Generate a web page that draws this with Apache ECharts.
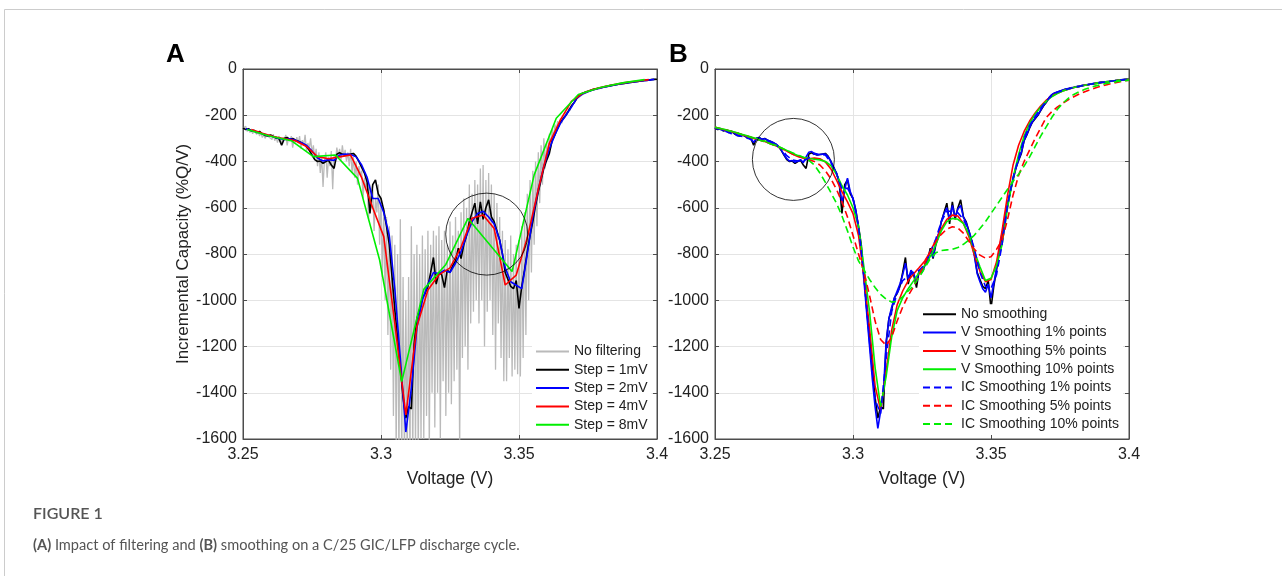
<!DOCTYPE html>
<html>
<head>
<meta charset="utf-8">
<title>Figure 1</title>
<script src="https://cdn.jsdelivr.net/npm/echarts@6/dist/echarts.min.js"></script>
<style>
html, body { margin: 0; padding: 0; background: #fff; }
#chart { width: 1282px; height: 576px; }
</style>
</head>
<body>
<div id="chart"></div>
<script>
// ---- data ----
// panel A: raw signal, 0.5 mV sampling from 3.25 V
const noFilterStart = 3.25, noFilterStep = 0.0005;
const noFilterValues = [
  -255,-262,-248,-270,-258,-275,-262,-280,-268,-276,
  -282,-270,-290,-275,-296,-283,-300,-286,-278,-295,
  -288,-305,-282,-310,-292,-318,-290,-302,-325,-296,
  -305,-285,-330,-298,-312,-290,-340,-300,-318,-295,
  -322,-290,-345,-308,-330,-285,-355,-320,-345,-300,
  -365,-330,-390,-345,-420,-360,-450,-380,-510,-395,
  -360,-470,-380,-420,-355,-520,-370,-400,-340,-380,
  -345,-395,-330,-380,-350,-400,-360,-420,-345,-450,
  -380,-470,-400,-500,-420,-460,-440,-560,-470,-520,
  -480,-650,-500,-600,-520,-700,-560,-620,-500,-760,
  -560,-900,-600,-1000,-640,-1150,-680,-1300,-720,-1500,
  -760,-1650,-800,-1700,-650,-1700,-900,-1700,-1000,-1700,
  -900,-1700,-680,-1700,-800,-1650,-760,-1700,-800,-1600,
  -720,-1600,-780,-1500,-700,-1650,-760,-1400,-700,-1550,
  -720,-1400,-680,-1600,-740,-1350,-700,-1500,-760,-1400,
  -660,-1450,-720,-1350,-640,-1300,-700,-1650,-620,-1250,
  -560,-1200,-600,-1300,-500,-1100,-540,-1050,-480,-1000,
  -500,-1100,-430,-1000,-415,-1200,-480,-1050,-450,-1000,
  -500,-1150,-540,-1300,-580,-1100,-640,-1250,-700,-1350,
  -740,-1350,-780,-1250,-720,-1330,-800,-1300,-760,-1320,
  -740,-1330,-680,-1250,-620,-1150,-540,-1000,-480,-880,
  -440,-760,-400,-680,-360,-580,-330,-500,-300,-430,
  -320,-380,-280,-340,-260,-300,-240,-270,-225,-250,
  -215,-235,-200,-210,-185,-195,-170,-180,-155,-160,
  -145,-150,-130,-135,-120,-118,-110,-108,-104,-100,
  -98,-96,-94,-92,-90,-88,-86,-85,-83,-82,
  -80,-79,-78,-77,-76,-75,-74,-73,-72,-71,
  -70,-69,-68,-67,-66,-65,-64,-63,-62,-61,
  -60,-59,-58,-57,-56,-55,-54,-53,-52,-51,
  -50,-49,-48,-47,-47,-46,-45,-45,-44,-44,
  -43
];

// 1 mV step (also the unsmoothed curve of panel B)
const step1Start = 3.25, step1Step = 0.001;
const step1Values = [
  -255,-262,-258,-268,-265,-275,-270,-280,-287,-290,
  -285,-292,-298,-300,-330,-300,-296,-305,-300,-308,
  -312,-318,-325,-335,-352,-372,-392,-400,-398,-408,
  -400,-395,-415,-430,-368,-362,-368,-372,-370,-368,
  -365,-378,-400,-425,-450,-490,-625,-500,-480,-540,
  -560,-610,-680,-760,-900,-1040,-1160,-1290,-1420,-1510,
  -1460,-1470,-1190,-1080,-1040,-990,-970,-940,-880,-815,
  -930,-880,-890,-945,-870,-880,-850,-830,-775,-820,
  -760,-720,-660,-620,-580,-670,-575,-650,-600,-566,
  -640,-660,-700,-740,-800,-880,-910,-940,-950,-915,
  -1035,-940,-870,-790,-720,-660,-590,-530,-480,-430,
  -395,-365,-310,-285,-255,-230,-215,-200,-180,-160,
  -145,-125,-112,-105,-100,-96,-92,-88,-85,-82,
  -80,-77,-75,-72,-70,-68,-66,-64,-62,-60,
  -58,-57,-55,-54,-52,-51,-49,-48,-46,-45,
  -44
];

const step2Start = 3.251, step2Step = 0.002;
const step2Values = [
  -258,-266,-272,-280,-287,-293,-300,-305,-302,-308,
  -318,-330,-355,-385,-398,-392,-395,-372,-368,-370,
  -380,-415,-470,-560,-560,-620,-720,-950,-1250,-1570,
  -1380,-1120,-1000,-930,-880,-885,-870,-880,-840,-790,
  -720,-660,-625,-615,-640,-670,-740,-860,-920,-935,
  -950,-800,-640,-520,-420,-345,-285,-235,-200,-165,
  -125,-108,-98,-90,-84,-78,-73,-68,-64,-60,
  -57,-54,-51,-48,-45
];

const step4Start = 3.253, step4Step = 0.004;
const step4Values = [
  -262,-278,-292,-302,-310,-335,-379,-388,-380,-372,
  -470,-600,-725,-1100,-1496,-1114,-956,-890,-860,-770,
  -645,-631,-690,-934,-891,-730,-520,-321,-220,-140,
  -105,-88,-76,-66,-58,-52,-46
];

const step8Start = 3.2515, step8Step = 0.008;
const step8Values = [-262,-290,-310,-379,-372,-473,-826,-1352,-953,-845,-646,-761,-876,-458,-213,-110,-80,-60,-46];

// panel B
const vSmooth1Start = 3.25, vSmooth1Step = 0.001;
const vSmooth1Values = [
  -255,-260,-258,-266,-265,-273,-270,-278,-285,-288,
  -285,-291,-297,-300,-318,-300,-297,-304,-302,-307,
  -312,-318,-324,-334,-350,-370,-388,-398,-396,-403,
  -398,-392,-405,-380,-360,-357,-365,-372,-370,-368,
  -368,-380,-400,-425,-452,-488,-580,-520,-472,-530,
  -560,-610,-690,-780,-920,-1060,-1200,-1340,-1460,-1554,
  -1480,-1400,-1180,-1080,-1030,-990,-960,-930,-890,-840,
  -910,-870,-885,-920,-870,-875,-850,-830,-785,-815,
  -750,-710,-660,-625,-600,-650,-590,-640,-605,-590,
  -640,-665,-705,-745,-810,-885,-920,-950,-965,-930,
  -990,-930,-860,-780,-710,-650,-585,-525,-475,-428,
  -392,-360,-308,-282,-252,-228,-212,-198,-178,-158,
  -143,-124,-111,-104,-99,-95,-91,-87,-84,-81,
  -79,-76,-74,-71,-69,-67,-65,-63,-61,-59,
  -57,-56,-54,-53,-51,-50,-48,-47,-46,-45,
  -44
];

// smoothed curves, 2 mV spacing from 3.25 V
const smoothStart = 3.25, smoothStep = 0.002;
const vSmooth5Values = [
  -252,-258,-264,-270,-277,-285,-292,-300,-306,-313,
  -322,-332,-342,-355,-368,-378,-385,-388,-385,-388,
  -402,-432,-480,-530,-575,-625,-720,-900,-1120,-1370,
  -1475,-1310,-1130,-1020,-960,-915,-885,-858,-830,-790,
  -740,-690,-650,-632,-636,-668,-725,-805,-875,-920,
  -910,-835,-700,-545,-415,-330,-270,-225,-190,-160,
  -135,-118,-105,-95,-87,-80,-75,-70,-66,-62,
  -58,-55,-52,-49,-47,-45
];
const vSmooth10Values = [
  -252,-257,-263,-269,-276,-283,-290,-297,-304,-311,
  -320,-330,-340,-352,-364,-374,-382,-387,-390,-393,
  -400,-418,-455,-505,-545,-600,-680,-860,-1050,-1290,
  -1460,-1330,-1160,-1045,-990,-950,-915,-880,-850,-810,
  -760,-700,-660,-646,-650,-668,-715,-790,-855,-915,
  -905,-850,-760,-600,-470,-370,-290,-235,-195,-165,
  -140,-120,-106,-95,-87,-80,-75,-70,-66,-62,
  -58,-55,-52,-49,-47,-45
];
const icSmooth1Values = [
  -253,-262,-270,-280,-287,-292,-300,-312,-303,-306,
  -315,-328,-345,-375,-393,-398,-398,-385,-365,-370,
  -372,-405,-450,-520,-515,-560,-680,-900,-1180,-1430,
  -1490,-1250,-1050,-970,-915,-895,-880,-870,-845,-795,
  -735,-660,-615,-615,-622,-650,-700,-780,-880,-940,
  -950,-890,-760,-590,-470,-385,-300,-245,-205,-170,
  -140,-114,-101,-93,-86,-80,-75,-70,-66,-62,
  -58,-55,-52,-49,-47,-45
];
const icSmooth5Values = [
  -252,-258,-264,-270,-277,-285,-292,-300,-307,-315,
  -323,-333,-343,-355,-367,-377,-385,-392,-400,-415,
  -440,-475,-520,-575,-640,-720,-800,-880,-980,-1090,
  -1170,-1195,-1160,-1090,-1030,-980,-940,-890,-840,-790,
  -745,-715,-692,-682,-688,-710,-745,-780,-805,-818,
  -812,-780,-740,-650,-545,-460,-400,-350,-300,-255,
  -210,-185,-165,-148,-133,-120,-108,-98,-89,-81,
  -74,-68,-62,-57,-52,-48
];
const icSmooth10Values = [
  -252,-258,-264,-270,-277,-285,-292,-300,-307,-315,
  -323,-332,-342,-352,-362,-372,-382,-395,-415,-450,
  -490,-535,-580,-635,-700,-770,-830,-870,-910,-945,
  -975,-995,-1008,-1005,-985,-960,-935,-900,-860,-820,
  -795,-785,-782,-780,-772,-758,-740,-718,-690,-660,
  -625,-590,-555,-520,-485,-455,-420,-380,-335,-290,
  -250,-210,-175,-148,-127,-110,-98,-88,-80,-73,
  -67,-62,-58,-54,-51,-48
];

// highlighted regions (circle centres, V and %Q/V)
const circleA = [3.3383, -714];
const circleB = [3.2784, -391];

const xTickLabels = ['3.25', '3.3', '3.35', '3.4'];
const legendA = ['No filtering', 'Step = 1mV', 'Step = 2mV', 'Step = 4mV', 'Step = 8mV'];
const legendB = ['No smoothing', 'V Smoothing 1% points', 'V Smoothing 5% points', 'V Smoothing 10% points',
  'IC Smoothing 1% points', 'IC Smoothing 5% points', 'IC Smoothing 10% points'];

// ---- chart ----
const font = 'Liberation Sans';
const axisColor = '#4d4d4d';

function pairs (start, step, values) {
  return values.map((v, i) => [+(start + i * step).toFixed(4), v]);
}

function line (name, panel, data, color, width, dashed) {
  return {
    name: name,
    type: 'line',
    xAxisIndex: panel,
    yAxisIndex: panel,
    data: data,
    symbol: 'none',
    color: color,
    lineStyle: { color: color, width: width, type: dashed ? [7, 4] : 'solid' },
    silent: true
  };
}

function circle (panel, center) {
  return {
    type: 'scatter',
    xAxisIndex: panel,
    yAxisIndex: panel,
    data: [center],
    symbol: 'circle',
    symbolSize: 82,
    clip: false,
    silent: true,
    z: 5,
    itemStyle: { color: 'rgba(0,0,0,0)', borderColor: '#000', borderWidth: 1 }
  };
}

function xAxis (grid, pos) {
  const main = pos === 'bottom';
  return {
    type: 'value',
    gridIndex: grid,
    position: pos,
    min: 3.25,
    max: 3.4,
    interval: 0.05,
    name: main ? 'Voltage (V)' : '',
    nameLocation: 'middle',
    nameGap: 31,
    nameTextStyle: { fontSize: 17.5, color: '#222', fontFamily: font },
    axisLine: { show: true, onZero: false, lineStyle: { color: axisColor } },
    axisTick: { show: true, inside: true, length: 4, lineStyle: { color: axisColor } },
    axisLabel: {
      show: main,
      margin: 8,
      fontSize: 16,
      color: '#222',
      fontFamily: font,
      formatter: v => xTickLabels.find(t => Math.abs(+t - v) < 1e-6) || ''
    },
    splitLine: { show: main, lineStyle: { color: '#e4e4e4' } }
  };
}

function yAxis (grid, pos, named) {
  const main = pos === 'left';
  return {
    type: 'value',
    gridIndex: grid,
    position: pos,
    min: -1600,
    max: 0,
    interval: 200,
    name: named ? 'Incremental Capacity (%Q/V)' : '',
    nameLocation: 'middle',
    nameGap: 42,
    nameTextStyle: { fontSize: 17, color: '#222', fontFamily: font },
    axisLine: { show: true, onZero: false, lineStyle: { color: axisColor } },
    axisTick: { show: true, inside: true, length: 4, lineStyle: { color: axisColor } },
    axisLabel: { show: main, margin: 6, fontSize: 16, color: '#222', fontFamily: font, formatter: v => String(v) },
    splitLine: { show: main, lineStyle: { color: '#e4e4e4' } }
  };
}

function legend (names, left, top) {
  return {
    orient: 'vertical',
    left: left,
    top: top,
    data: names,
    selectedMode: false,
    itemWidth: 33,
    itemHeight: 14,
    itemGap: 4.3,
    padding: [3, 4, 4, 3],
    backgroundColor: '#fff',
    itemStyle: { opacity: 0 },
    textStyle: { fontSize: 14, color: '#222', fontFamily: font }
  };
}

const chart = echarts.init(document.getElementById('chart'), null, { renderer: 'canvas' });

chart.setOption({
  animation: false,
  backgroundColor: '#fff',
  title: [
    { text: 'A', left: 166, top: 42, padding: 0, textStyle: { fontSize: 26, fontWeight: 'bold', color: '#000', fontFamily: font } },
    { text: 'B', left: 669, top: 42, padding: 0, textStyle: { fontSize: 26, fontWeight: 'bold', color: '#000', fontFamily: font } }
  ],
  grid: [
    { left: 243, top: 69, width: 414, height: 370, show: true, borderColor: axisColor, borderWidth: 1 },
    { left: 715, top: 69, width: 414, height: 370, show: true, borderColor: axisColor, borderWidth: 1 }
  ],
  xAxis: [xAxis(0, 'bottom'), xAxis(1, 'bottom'), xAxis(0, 'top'), xAxis(1, 'top')],
  yAxis: [yAxis(0, 'left', true), yAxis(1, 'left', false), yAxis(0, 'right', false), yAxis(1, 'right', false)],
  legend: [legend(legendA, 532, 341.5), legend(legendB, 919, 304.3)],
  series: [
    line('No filtering', 0, pairs(noFilterStart, noFilterStep, noFilterValues), '#bababa', 1.3),
    line('Step = 1mV', 0, pairs(step1Start, step1Step, step1Values), '#000000', 1.6),
    line('Step = 2mV', 0, pairs(step2Start, step2Step, step2Values), '#0000ff', 1.6),
    line('Step = 4mV', 0, pairs(step4Start, step4Step, step4Values), '#ff0000', 1.6),
    line('Step = 8mV', 0, pairs(step8Start, step8Step, step8Values), '#00ee00', 1.6),
    circle(0, circleA),

    line('No smoothing', 1, pairs(step1Start, step1Step, step1Values), '#000000', 1.6),
    line('V Smoothing 1% points', 1, pairs(vSmooth1Start, vSmooth1Step, vSmooth1Values), '#0000ff', 1.6),
    line('V Smoothing 5% points', 1, pairs(smoothStart, smoothStep, vSmooth5Values), '#ff0000', 1.6),
    line('V Smoothing 10% points', 1, pairs(smoothStart, smoothStep, vSmooth10Values), '#00ee00', 1.6),
    line('IC Smoothing 1% points', 1, pairs(smoothStart, smoothStep, icSmooth1Values), '#0000ff', 1.6, true),
    line('IC Smoothing 5% points', 1, pairs(smoothStart, smoothStep, icSmooth5Values), '#ff0000', 1.6, true),
    line('IC Smoothing 10% points', 1, pairs(smoothStart, smoothStep, icSmooth10Values), '#00ee00', 1.6, true),
    circle(1, circleB)
  ],
  graphic: [
    {
      type: 'rect',
      silent: true,
      shape: { x: 4.5, y: 9.5, width: 1400, height: 700 },
      style: { fill: 'none', stroke: '#cccccc', lineWidth: 1 }
    },
    {
      type: 'text',
      left: 33,
      top: 506,
      silent: true,
      style: { text: 'FIGURE 1', fontSize: 16, fontWeight: 600, fontFamily: 'Lato', fill: '#555' }
    },
    {
      type: 'text',
      left: 33,
      top: 538,
      silent: true,
      style: {
        text: '{b|(A)} Impact of filtering and {b|(B)} smoothing on a C/25 GIC/LFP discharge cycle.',
        fontSize: 14.6,
        fontFamily: 'Lato',
        fill: '#555',
        rich: { b: { fontWeight: 'bold', fontSize: 14.6, fontFamily: 'Lato', fill: '#555' } }
      }
    }
  ]
});
</script>
</body>
</html>
